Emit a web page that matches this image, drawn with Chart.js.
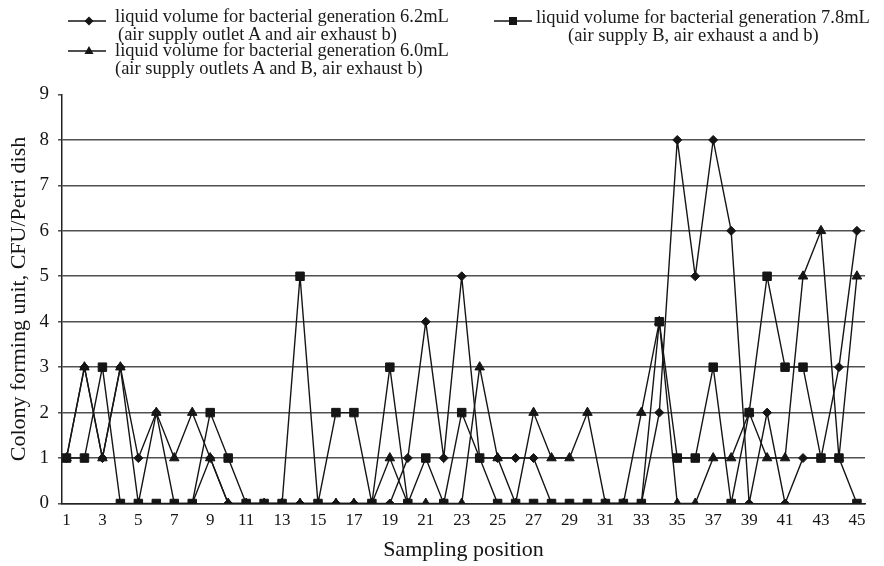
<!DOCTYPE html>
<html><head><meta charset="utf-8">
<script src="https://cdn.jsdelivr.net/npm/chart.js@4.4.1/dist/chart.umd.min.js"></script>
<style>
html,body{margin:0;padding:0;background:#fff;}
#wrap{position:relative;width:884px;height:566px;overflow:hidden;}
canvas{position:absolute;left:0;top:0;}
.lg{position:absolute;font-family:'Liberation Serif','Times New Roman',serif;font-size:18.5px;line-height:17px;color:#1a1a1a;white-space:nowrap;}
.mk{position:absolute;}
</style></head><body>
<div id="wrap">
<canvas id="c" width="884" height="566"></canvas>
<div id="legend"></div>
</div>
<script>
// ---- data ----
const positions = [1,2,3,4,5,6,7,8,9,10,11,12,13,14,15,16,17,18,19,20,21,22,23,24,25,26,27,28,29,30,31,32,33,34,35,36,37,38,39,40,41,42,43,44,45];
const xTickLabels = ['1','3','5','7','9','11','13','15','17','19','21','23','25','27','29','31','33','35','37','39','41','43','45'];
const yTickLabels = ['0','1','2','3','4','5','6','7','8','9'];
const seriesLine1 = [
  'liquid volume for bacterial generation 6.2mL',
  'liquid volume for bacterial generation 6.0mL',
  'liquid volume for bacterial generation 7.8mL'
];
const seriesLine2 = [
  '(air supply outlet A and air exhaust b)',
  '(air supply outlets A and B, air exhaust b)',
  '(air supply B, air exhaust a and b)'
];
// 6.2 mL (diamonds)
const cfu62 = [1,3,1,3,1,2,0,0,1,0,0,0,0,0,0,0,0,0,0,1,4,1,5,1,1,1,1,0,0,0,0,0,0,2,8,5,8,6,0,2,0,1,1,3,6];
// 6.0 mL (triangles)
const cfu60 = [1,3,1,3,0,2,1,2,1,0,0,0,0,0,0,0,0,0,1,0,0,0,0,3,1,0,2,1,1,2,0,0,2,4,0,0,1,1,2,1,1,5,6,1,5];
// 7.8 mL (squares)
const cfu78 = [1,1,3,0,0,0,0,0,2,1,0,0,0,5,0,2,2,0,3,0,1,0,2,1,0,0,0,0,0,0,0,0,0,4,1,1,3,0,2,5,3,3,1,1,0];

const FONT = "'Liberation Serif','Times New Roman',serif";
const INK = '#151515';

// ---- legend (HTML text) ----
const legendLayout = [
  {mx:68, my:21, tx:115, ty:8,  indent:3, style:'diamond'},
  {mx:68, my:51, tx:115, ty:42, indent:0, style:'triangle'},
  {mx:494, my:21, tx:536, ty:9, indent:32, style:'square'}
];
const lg = document.getElementById('legend');
legendLayout.forEach((L,i)=>{
  const svgNS='http://www.w3.org/2000/svg';
  const svg=document.createElementNS(svgNS,'svg');
  svg.setAttribute('width','42');svg.setAttribute('height','14');
  svg.setAttribute('class','mk');
  svg.style.left=L.mx+'px';svg.style.top=(L.my-7)+'px';
  const ln=document.createElementNS(svgNS,'line');
  ln.setAttribute('x1','0');ln.setAttribute('x2','38');ln.setAttribute('y1','7');ln.setAttribute('y2','7');
  ln.setAttribute('stroke',INK);ln.setAttribute('stroke-width','1.6');
  svg.appendChild(ln);
  let m;
  if(L.style==='diamond'){m=document.createElementNS(svgNS,'polygon');m.setAttribute('points','21,2.5 25.5,7 21,11.5 16.5,7');}
  else if(L.style==='triangle'){m=document.createElementNS(svgNS,'polygon');m.setAttribute('points','21,2 25.5,10 16.5,10');}
  else {m=document.createElementNS(svgNS,'rect');m.setAttribute('x','15');m.setAttribute('y','3');m.setAttribute('width','8');m.setAttribute('height','8');}
  m.setAttribute('fill',INK);
  svg.appendChild(m);
  lg.appendChild(svg);
  const d1=document.createElement('div');d1.className='lg';
  d1.style.left=L.tx+'px';d1.style.top=L.ty+'px';d1.textContent=seriesLine1[i];
  lg.appendChild(d1);
  const d2=document.createElement('div');d2.className='lg';
  d2.style.left=(L.tx+L.indent)+'px';d2.style.top=(L.ty+18)+'px';d2.textContent=seriesLine2[i];
  lg.appendChild(d2);
});

// ---- chart ----
const toXY = arr => positions.map((p,i)=>({x:p,y:arr[i]}));
const common = {borderColor:INK, backgroundColor:INK, pointBackgroundColor:INK, pointBorderColor:INK,
  borderWidth:1.4, pointBorderWidth:1, tension:0, fill:false};

new Chart(document.getElementById('c'), {
  type:'line',
  data:{datasets:[
    Object.assign({label:seriesLine1[2], data:toXY(cfu78), pointStyle:'rect', pointRadius:6, order:0}, common),
    Object.assign({label:seriesLine1[0], data:toXY(cfu62), pointStyle:'rectRot', pointRadius:4.5, order:1}, common),
    Object.assign({label:seriesLine1[1], data:toXY(cfu60), pointStyle:'triangle', pointRadius:5.5, order:2}, common)
  ]},
  options:{
    responsive:false, animation:false, devicePixelRatio:1,
    layout:{padding:{top:94.5, right:19, left:0, bottom:0}},
    plugins:{legend:{display:false}, tooltip:{enabled:false}},
    scales:{
      x:{type:'linear', min:0.75, max:45.45,
        afterBuildTicks: s => { s.ticks = xTickLabels.map(v=>({value:Number(v)})); },
        afterFit: s => { s.height = 62.5; },
        ticks:{autoSkip:false, maxRotation:0, padding:7, color:INK, font:{family:FONT, size:17},
          callback:(v)=> xTickLabels.find(t=>Number(t)===v) ?? ''},
        grid:{display:false, drawTicks:false},
        border:{display:true, color:'#222', width:1.5},
        title:{display:true, text:'Sampling position', color:INK, font:{family:FONT, size:22}, padding:{top:0,bottom:3}}
      },
      y:{min:0, max:9,
        afterBuildTicks: s => { s.ticks = yTickLabels.map(v=>({value:Number(v)})); },
        afterFit: s => { s.width = 62; },
        ticks:{padding:9, color:INK, font:{family:FONT, size:19},
          callback:(v)=> yTickLabels[v] ?? ''},
        grid:{color: c => (c.tick && c.tick.value===9) ? 'rgba(0,0,0,0)' : '#505050', lineWidth:1.6,
          drawTicks:true, tickLength:4, tickColor:'#404040', tickWidth:1.4},
        border:{display:true, color:'#222', width:1.5},
        title:{display:true, text:'Colony forming unit, CFU/Petri dish', color:INK, font:{family:FONT, size:22}, padding:{top:6,bottom:0}}
      }
    }
  }
});
</script>
</body></html>
